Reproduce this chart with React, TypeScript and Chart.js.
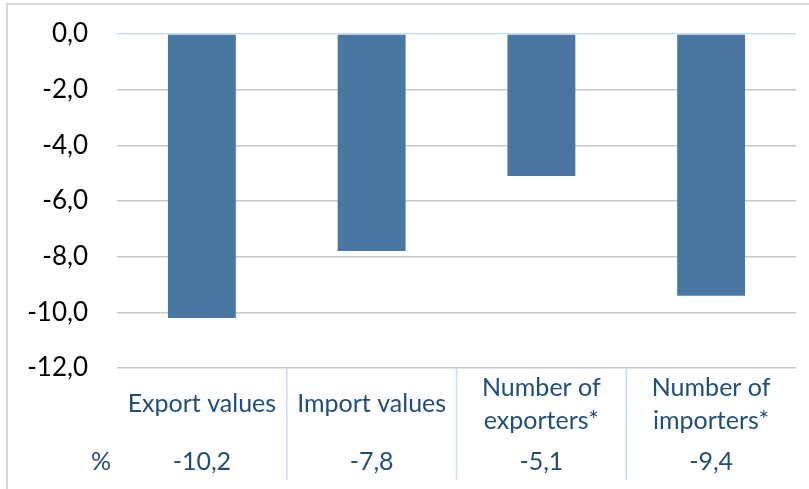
import React, { useEffect, useRef } from "react";
import { Chart, registerables } from "chart.js";

Chart.register(...registerables);

const categories: string[][] = [
  ["Export values"],
  ["Import values"],
  ["Number of", "exporters*"],
  ["Number of", "importers*"],
];
const values: number[] = [-10.2, -7.8, -5.1, -9.4];
const tableRowLabel = "%";
const yMin = -12;
const yMax = 0;
const yStep = 2;

const fmt = (v: number) => v.toFixed(1).replace(".", ",");

const TABLE_COLOR = "#1F4E79";
const TABLE_FONT = "25px Lato";

const tablePlugin = {
  id: "dataTable",
  afterDraw(chart: any) {
    const ctx = chart.ctx as CanvasRenderingContext2D;
    const x = chart.scales.x;
    const area = chart.chartArea;
    const n = categories.length;
    const step = (area.right - area.left) / n;
    ctx.save();
    ctx.strokeStyle = "#C5DEF5";
    ctx.lineWidth = 1.5;
    for (let i = 1; i < n; i++) {
      const px = area.left + step * i;
      ctx.beginPath();
      ctx.moveTo(px, area.bottom);
      ctx.lineTo(px, area.bottom + 112);
      ctx.stroke();
    }
    ctx.fillStyle = TABLE_COLOR;
    ctx.font = TABLE_FONT;
    ctx.textAlign = "center";
    ctx.textBaseline = "middle";
    const lineH = 33;
    const rowCenter = area.bottom + 36;
    categories.forEach((lines, i) => {
      const cx = x.getPixelForValue(i);
      const start = rowCenter - ((lines.length - 1) * lineH) / 2;
      lines.forEach((ln, j) => ctx.fillText(ln, cx, start + j * lineH));
      ctx.fillText(fmt(values[i]), cx, area.bottom + 94);
    });
    ctx.fillText(tableRowLabel, 101, area.bottom + 94);
    ctx.restore();
  },
};

export default function App() {
  const ref = useRef<HTMLCanvasElement>(null);
  useEffect(() => {
    if (!ref.current) return;
    const chart = new Chart(ref.current, {
      type: "bar",
      data: {
        labels: categories.map((c) => c.join(" ")),
        datasets: [
          {
            data: values,
            backgroundColor: "#4A77A2",
            barPercentage: 0.4,
            categoryPercentage: 1,
          },
        ],
      },
      options: {
        responsive: false,
        animation: false,
        devicePixelRatio: 1,
        layout: { padding: { left: 0, top: 34, right: 13, bottom: 121 } },
        plugins: { legend: { display: false }, tooltip: { enabled: false } },
        scales: {
          x: { display: false },
          y: {
            min: yMin,
            max: yMax,
            border: { display: false },
            grid: {
              drawTicks: false,
              lineWidth: 1.5,
              color: (c: any) => (c.tick && c.tick.value === 0 ? "#C5DEF5" : "#C8C8C8"),
            },
            ticks: {
              stepSize: yStep,
              padding: 29,
              color: "#000000",
              font: { family: "Lato", size: 26 },
              callback: (v: any) => fmt(Number(v)),
            },
            afterFit: (s: any) => {
              s.width = 117;
              s.paddingTop = 0;
              s.paddingBottom = 0;
            },
          },
        },
      },
      plugins: [tablePlugin],
    });
    return () => chart.destroy();
  }, []);
  return (
    <div style={{ position: "fixed", left: 0, top: 0, width: 809, height: 489, background: "#fff", overflow: "hidden" }}>
      <div
        style={{
          position: "absolute",
          left: 6,
          top: 3,
          width: 900,
          height: 600,
          borderTop: "2px solid #D9D9D9",
          borderLeft: "2px solid #D9D9D9",
        }}
      />
      <canvas ref={ref} width={809} height={489} style={{ position: "absolute", left: 0, top: 0 }} />
    </div>
  );
}
